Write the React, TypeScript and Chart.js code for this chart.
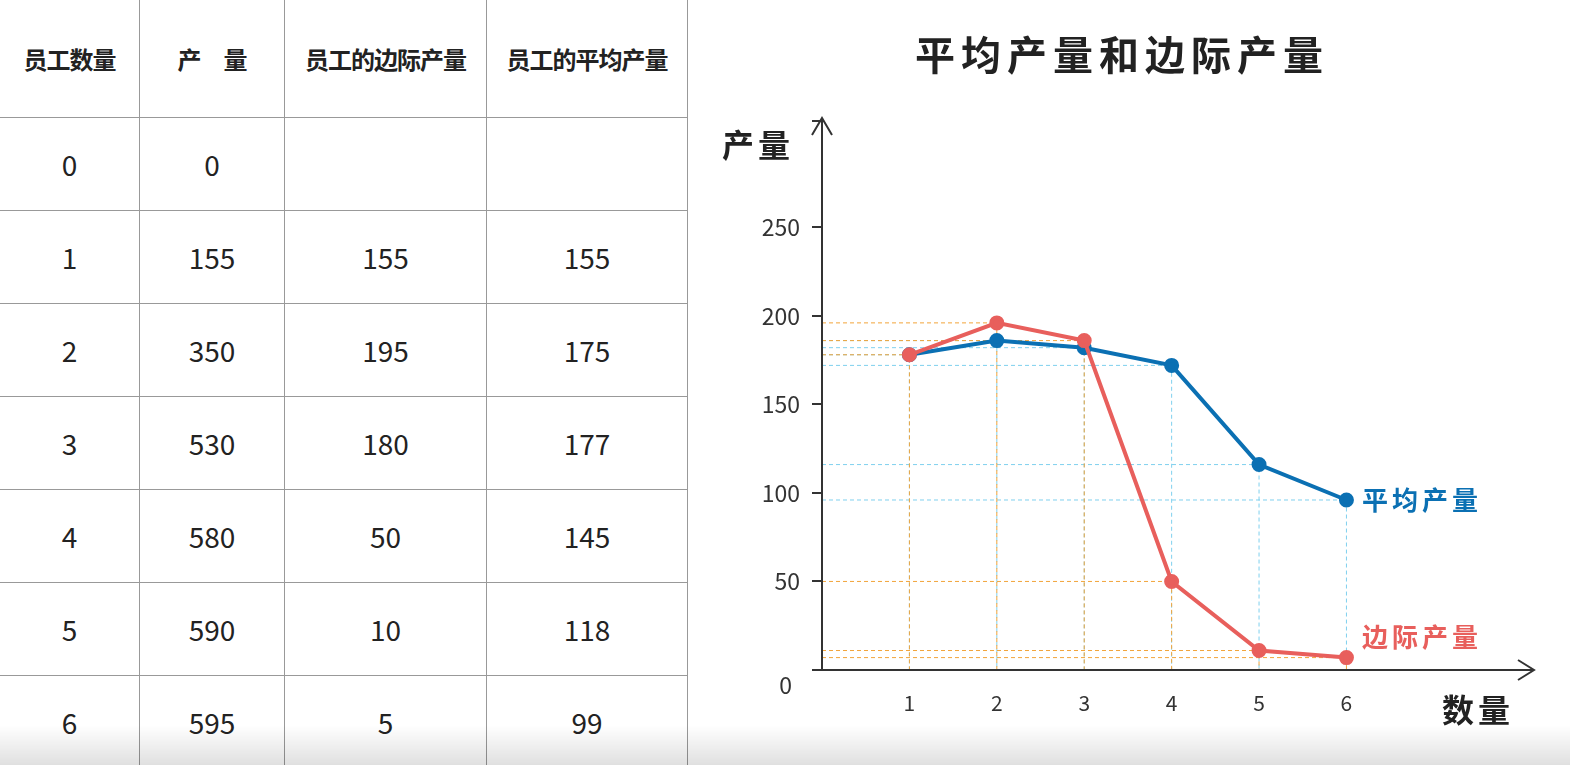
import { useEffect, useRef } from "react";
import { Chart, registerables } from "chart.js";

Chart.register(...registerables);

const workers = [0, 1, 2, 3, 4, 5, 6];
const output = [0, 155, 350, 530, 580, 590, 595];
const marginalCol = ["", "155", "195", "180", "50", "10", "5"];
const averageCol = ["", "155", "175", "177", "145", "118", "99"];
const headers = ["员工数量", "产　量", "员工的边际产量", "员工的平均产量"];

const xPoints = [1, 2, 3, 4, 5, 6];
const marginalPlot = [178, 196, 186, 50, 11, 7];
const averagePlot = [178, 186, 182, 172, 116, 96];

const RED = "#e85f5c";
const BLUE = "#0b70b3";
const FONT = "'Noto Sans CJK SC', 'Noto Sans', sans-serif";

const decor = {
  id: "decor",
  beforeDatasetsDraw(chart: any) {
    const { ctx, scales, chartArea } = chart;
    const x = scales.x, y = scales.y;
    ctx.save();
    ctx.lineWidth = 1;
    ctx.setLineDash([4, 3]);
    const guide = (vals: number[], color: string) => {
      ctx.strokeStyle = color;
      vals.forEach((v, i) => {
        const px = x.getPixelForValue(xPoints[i]);
        const py = y.getPixelForValue(v);
        ctx.beginPath();
        ctx.moveTo(chartArea.left, py);
        ctx.lineTo(px, py);
        ctx.lineTo(px, chartArea.bottom);
        ctx.stroke();
      });
    };
    guide(averagePlot, "#7fd0ee");
    guide(marginalPlot, "#f2a43a");
    ctx.restore();
  },
  afterDraw(chart: any) {
    const { ctx, chartArea } = chart;
    const l = chartArea.left, b = chartArea.bottom;
    ctx.save();
    ctx.strokeStyle = "#333";
    ctx.lineWidth = 2;
    ctx.beginPath();
    ctx.moveTo(l, b);
    ctx.lineTo(l, 120);
    ctx.moveTo(l - 10, 135);
    ctx.lineTo(l, 118);
    ctx.lineTo(l + 10, 135);
    ctx.moveTo(l, b);
    ctx.lineTo(chartArea.right + 4, b);
    ctx.moveTo(chartArea.right - 12, b - 10);
    ctx.lineTo(chartArea.right + 4, b);
    ctx.lineTo(chartArea.right - 12, b + 10);
    ctx.stroke();

    ctx.fillStyle = "#333";
    ctx.font = `23px ${FONT}`;
    ctx.textAlign = "right";
    ctx.textBaseline = "middle";
    ctx.fillText("0", l - 30, b + 15);

    ctx.font = `bold 40px ${FONT}`;
    ctx.textAlign = "center";
    ctx.fillStyle = "#222";
    ctx.letterSpacing = "6px";
    ctx.fillText("平均产量和边际产量", 432, 55);
    ctx.letterSpacing = "4px";
    ctx.font = `bold 32px ${FONT}`;
    ctx.fillText("产量", 68, 145);
    ctx.fillText("数量", 788, 710);
    ctx.font = `bold 26px ${FONT}`;
    ctx.textAlign = "left";
    ctx.fillStyle = BLUE;
    ctx.fillText("平均产量", 672, 500);
    ctx.fillStyle = RED;
    ctx.fillText("边际产量", 672, 637);
    ctx.restore();
  },
};

function ChartPanel() {
  const ref = useRef<HTMLCanvasElement | null>(null);
  useEffect(() => {
    if (!ref.current) return;
    const chart = new Chart(ref.current, {
      type: "line",
      data: {
        datasets: [
          {
            label: "边际产量",
            data: xPoints.map((v, i) => ({ x: v, y: marginalPlot[i] })),
            borderColor: RED,
            backgroundColor: RED,
            borderWidth: 4,
            pointRadius: 5.5,
          },
          {
            label: "平均产量",
            data: xPoints.map((v, i) => ({ x: v, y: averagePlot[i] })),
            borderColor: BLUE,
            backgroundColor: BLUE,
            borderWidth: 4,
            pointRadius: 5.5,
          },
        ],
      },
      options: {
        animation: false,
        responsive: false,
        layout: { padding: { top: 121, right: 40, left: 0, bottom: 0 } },
        plugins: { legend: { display: false }, tooltip: { enabled: false } },
        scales: {
          x: {
            type: "linear",
            min: 0,
            max: 8.1,
            afterFit: (s: any) => { s.height = 95; },
            grid: { display: false, drawTicks: false },
            border: { display: false },
            ticks: {
              stepSize: 1,
              padding: 20,
              color: "#333",
              font: { family: FONT, size: 21 },
              callback: (v: any) => (v >= 1 && v <= 6 ? String(v) : ""),
            },
          },
          y: {
            min: 0,
            max: 310,
            afterFit: (s: any) => { s.width = 132; },
            grid: { drawOnChartArea: false, drawTicks: true, tickLength: 10, color: "#333", lineWidth: 2 },
            border: { display: false },
            ticks: {
              stepSize: 50,
              padding: 12,
              color: "#333",
              font: { family: FONT, size: 23 },
              callback: (v: any) => (v > 0 && v <= 250 ? String(v) : ""),
            },
          },
        },
      },
      plugins: [decor],
    });
    return () => chart.destroy();
  }, []);
  return <canvas ref={ref} width={880} height={765} style={{ position: "absolute", left: 690, top: 0 }} />;
}

export default function App() {
  const colW = [140, 145, 202, 201];
  const cell = (w: number, h: number, txt: string, header: boolean) => (
    <div
      style={{
        width: w,
        height: h,
        boxSizing: "border-box",
        borderRight: "1px solid #999",
        borderBottom: "1px solid #999",
        display: "flex",
        alignItems: "center",
        justifyContent: "center",
        fontSize: header ? 24 : 28,
        fontWeight: header ? 700 : 400,
        color: "#222",
        whiteSpace: "nowrap",
        letterSpacing: header ? -1 : 0,
      }}
    >
      {txt}
    </div>
  );
  return (
    <div style={{ position: "absolute", left: 0, top: 0, width: 1570, height: 765, background: "#fff", overflow: "hidden", fontFamily: FONT }}>
      <div style={{ position: "absolute", left: 0, top: 0 }}>
        <div style={{ display: "flex" }}>{headers.map((h, i) => cell(colW[i], 118, h, true))}</div>
        {workers.map((w, r) => (
          <div key={r} style={{ display: "flex" }}>
            {[String(w), String(output[r]), marginalCol[r], averageCol[r]].map((t, i) => cell(colW[i], 93, t, false))}
          </div>
        ))}
      </div>
      <ChartPanel />
      <div style={{ position: "absolute", left: 0, top: 725, width: 1570, height: 40, background: "linear-gradient(rgba(0,0,0,0), rgba(0,0,0,0.12))" }} />
    </div>
  );
}
